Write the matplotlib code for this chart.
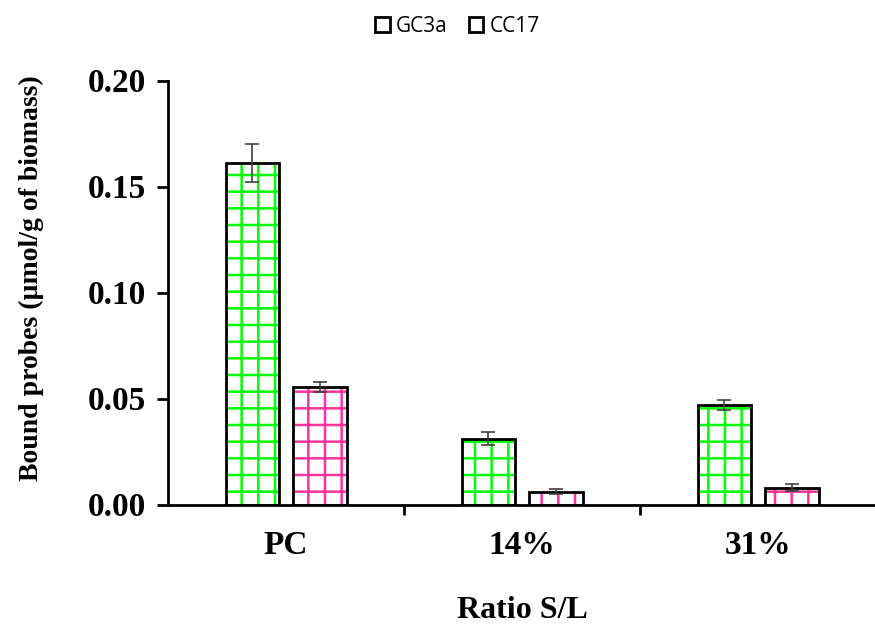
import matplotlib
matplotlib.use("Agg")
import matplotlib.pyplot as plt
from matplotlib.patches import Rectangle
import numpy as np

# --- données ---
categories = ["PC", "14%", "31%"]
series = ["GC3a", "CC17"]
gc3a = [0.161, 0.031, 0.047]
gc3a_err = [0.009, 0.003, 0.0025]
cc17 = [0.0555, 0.0061, 0.0080]
cc17_err = [0.0025, 0.001, 0.0015]
yticks = [0.00, 0.05, 0.10, 0.15, 0.20]

colors = ["#00ff00", "#ff3399"]
serif = "Liberation Serif"

plt.rcParams["hatch.linewidth"] = 1.8

fig = plt.figure(figsize=(8.75, 6.29), dpi=100)
ax = fig.add_axes([168 / 875, 1 - 504.5 / 629, (876 - 168) / 875, (504.5 - 80.5) / 629])

x = np.arange(len(categories))
width = 0.225
offsets = [-0.142, 0.144]

for vals, errs, off, col in zip([gc3a, cc17], [gc3a_err, cc17_err], offsets, colors):
    # hachures colorées puis contour noir par-dessus
    ax.bar(x + off, vals, width, color="white", edgecolor=col, hatch="+", linewidth=0, zorder=2)
    ax.bar(x + off, vals, width, fill=False, edgecolor="black", linewidth=2, zorder=3)
    ax.errorbar(x + off, vals, yerr=errs, fmt="none", ecolor="#404040",
                elinewidth=1.2, capsize=5, capthick=1.2, zorder=4)

ax.set_xlim(-0.5, 2.5)
ax.set_ylim(0, 0.20)
ax.set_yticks(yticks)
ax.set_yticklabels([f"{v:.2f}" for v in yticks], fontfamily=serif, fontweight="bold", fontsize=24)

ax.set_xticks([0.5, 1.5])
ax.set_xticklabels([])
ax.set_xticks(x, minor=True)
ax.set_xticklabels(categories, minor=True, fontfamily=serif, fontweight="bold", fontsize=24)
ax.tick_params(axis="x", which="minor", length=0, pad=18)
ax.tick_params(axis="x", which="major", length=7, width=2, direction="out")
ax.tick_params(axis="y", length=8, width=2, direction="out", pad=8)

for side in ["top", "right"]:
    ax.spines[side].set_visible(False)
for side in ["left", "bottom"]:
    ax.spines[side].set_linewidth(2)

ax.set_ylabel("Bound probes (µmol/g of biomass)", fontfamily=serif, fontweight="bold", fontsize=20)
ax.yaxis.set_label_coords(-0.175, 0.535)
ax.set_xlabel("Ratio S/L", fontfamily=serif, fontweight="bold", fontsize=23)
ax.xaxis.set_label_coords(0.5, -0.215)

handles = [Rectangle((0, 0), 1, 1, facecolor="white", edgecolor="black", linewidth=2)
           for _ in series]
leg = fig.legend(handles, series, loc="center", bbox_to_anchor=(0.523, 0.958), ncol=2,
                 frameon=False, prop={"family": "Open Sans", "size": 15},
                 handlelength=0.7, handleheight=0.7, handletextpad=0.3, columnspacing=1.0)

fig.savefig("out.png", dpi=100)
plt.close(fig)
